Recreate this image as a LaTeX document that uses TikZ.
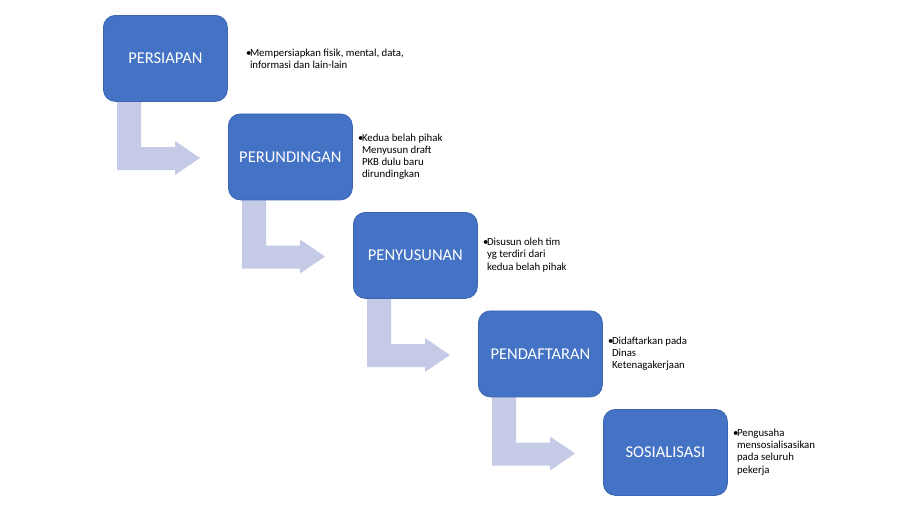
\documentclass[tikz,border=0pt]{standalone}
\usepackage{fontspec}
\setmainfont{Carlito}
\usetikzlibrary{backgrounds}
\definecolor{boxblue}{RGB}{68,114,196}
\definecolor{boxedge}{RGB}{60,100,176}
\definecolor{arrowlav}{RGB}{197,203,230}
\newcommand{\bul}[1]{{\fontsize{10.8}{12.2}\selectfont\begin{tabular}{@{}p{4pt}@{}l@{}}#1\end{tabular}}}
\begin{document}
\begin{tikzpicture}[x=1pt,y=-1pt,
  stepbox/.style={draw=boxedge,line width=0.8pt,fill=boxblue,rounded corners=12pt,
    minimum width=124pt,minimum height=86pt,inner sep=0pt,text=white,
    font=\fontsize{16.5}{18}\selectfont},
  bentarrow/.style={fill=arrowlav,draw=none},
  note/.style={anchor=west,inner sep=0pt,align=left}]
\useasboundingbox (0,0) rectangle (900,506);
\foreach \i/\t in {0/PERSIAPAN,1/PERUNDINGAN,2/PENYUSUNAN,3/PENDAFTARAN,4/SOSIALISASI}{
  \pgfmathsetmacro\X{103+125*\i}
  \pgfmathsetmacro\Y{15+98.5*\i}
  \node[stepbox,anchor=north west] (b\i) at (\X,\Y) {\t};
}
\begin{scope}[on background layer]
\fill[white] (0,0) rectangle (900,506);
\foreach \i in {0,...,3}{
  \fill[bentarrow] ([shift={(14,80)}]b\i.north west) -- ++(0,75) -- ++(58,0) -- ++(0,5)
    -- ++(25,-17) -- ++(-25,-17) -- ++(0,6) -- ++(-34,0) -- ++(0,-52) -- cycle;
}
\end{scope}
\node[note] (t0) at ([xshift=18pt,yshift=-2pt]b0.east) {\bul{•&Mempersiapkan fisik, mental, data,\\ &informasi dan lain-lain}};
\node[note] (t1) at ([xshift=5pt]b1.east) {\bul{•&Kedua belah pihak\\ &Menyusun draft\\ &PKB dulu baru\\ &dirundingkan}};
\node[note] (t2) at ([xshift=5pt]b2.east) {\bul{•&Disusun oleh tim\\ &yg terdiri dari\\ &kedua belah pihak}};
\node[note] (t3) at ([xshift=5pt]b3.east) {\bul{•&Didaftarkan pada\\ &Dinas\\ &Ketenagakerjaan}};
\node[note] (t4) at ([xshift=5pt]b4.east) {\bul{•&Pengusaha\\ &mensosialisasikan\\ &pada seluruh\\ &pekerja}};
\end{tikzpicture}
\end{document}
